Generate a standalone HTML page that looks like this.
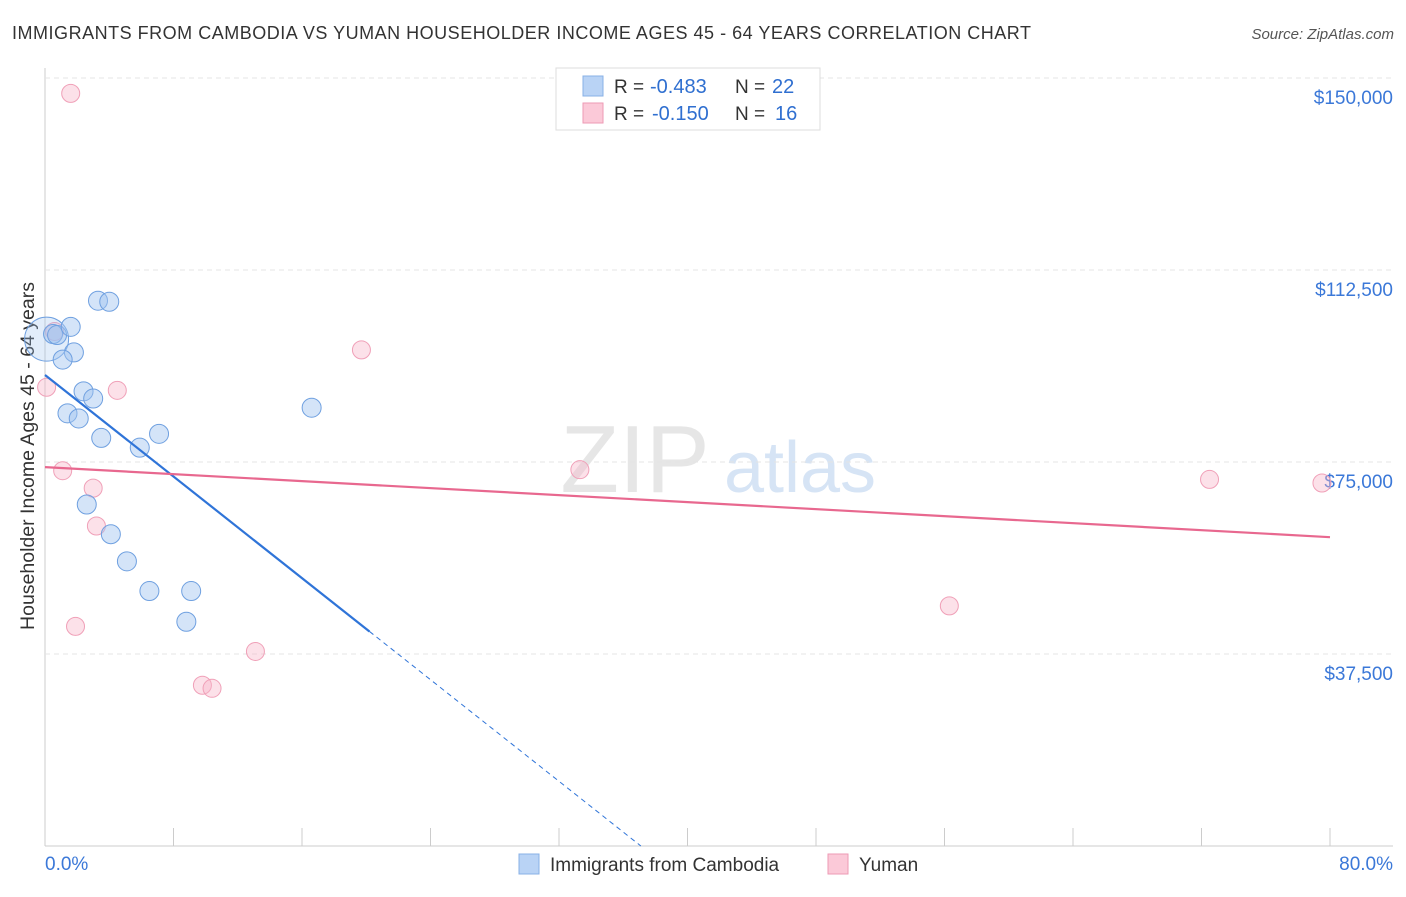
<!DOCTYPE html>
<html><head><meta charset="utf-8"><style>
body{margin:0;background:#fff;font-family:"Liberation Sans",sans-serif;}
svg text{font-family:"Liberation Sans",sans-serif;}
</style></head><body>
<svg id="c" width="1406" height="892" xmlns="http://www.w3.org/2000/svg">
<text x="12" y="39" font-size="18" fill="#333" textLength="1019">IMMIGRANTS FROM CAMBODIA VS YUMAN HOUSEHOLDER INCOME AGES 45 - 64 YEARS CORRELATION CHART</text>
<text x="1394" y="39" font-size="15" fill="#555" text-anchor="end" font-style="italic">Source: ZipAtlas.com</text>
<text x="635" y="492" font-size="96" fill="#e6e6e6" text-anchor="middle" font-family="Liberation Serif">ZIP</text>
<text x="800" y="492" font-size="72" fill="#d6e4f5" text-anchor="middle">atlas</text>
<text transform="translate(34,456) rotate(-90)" font-size="19.5" fill="#333" text-anchor="middle">Householder Income Ages 45 - 64 years</text>
<g id="grid"></g><g id="marks"></g>
<g>
<rect x="556" y="68" width="264" height="62" fill="#fff" stroke="#ddd"/>
<rect x="583" y="76" width="20" height="20" fill="#b9d3f5" stroke="#88b0e6"/>
<text x="614" y="93" font-size="19" fill="#333">R =</text>
<text x="650" y="93" font-size="20" fill="#2f6fd0">-0.483</text>
<text x="735" y="93" font-size="19" fill="#333">N =</text>
<text x="772" y="93" font-size="20" fill="#2f6fd0">22</text>
<rect x="583" y="103" width="20" height="20" fill="#fbc9d8" stroke="#ee9ab4"/>
<text x="614" y="120" font-size="19" fill="#333">R =</text>
<text x="652" y="120" font-size="20" fill="#2f6fd0">-0.150</text>
<text x="735" y="120" font-size="19" fill="#333">N =</text>
<text x="775" y="120" font-size="20" fill="#2f6fd0">16</text>
</g>
<g>
<rect x="519" y="854" width="20" height="20" fill="#b9d3f5" stroke="#88b0e6"/>
<text x="550" y="871" font-size="19" fill="#333">Immigrants from Cambodia</text>
<rect x="828" y="854" width="20" height="20" fill="#fbc9d8" stroke="#ee9ab4"/>
<text x="859" y="871" font-size="19" fill="#333">Yuman</text>
</g>
<text x="45" y="870" font-size="19" fill="#3b78d8">0.0%</text>
<text x="1393" y="870" font-size="19" fill="#3b78d8" text-anchor="end">80.0%</text>
</svg>
<script>
const yTicks=[37500,75000,112500,150000];
const yTickLabels=["$37,500","$75,000","$112,500","$150,000"];
const blueX=[0.1,0.5,0.75,1.6,3.3,4.0,1.8,1.1,2.4,3.0,1.4,2.1,3.5,7.1,5.9,16.6,2.6,4.1,5.1,6.5,9.1,8.8];
const blueY=[99000,100000,99800,101400,106500,106300,96400,95000,88800,87400,84500,83500,79700,80500,77800,85600,66700,60900,55600,49800,49800,43800];
const pinkX=[1.6,0.1,0.6,4.5,19.7,1.1,3.0,3.2,1.9,13.1,9.8,10.4,33.3,72.5,79.5,56.3];
const pinkY=[147000,89600,100500,89000,96900,73300,69900,62500,42900,38000,31400,30800,73500,71600,70900,46900];
const blueTrend=[92000,-2480];
const pinkTrend=[74000,-171];
const blueR=[22,9.5,9.5,9.5,9.5,9.5,9.5,9.5,9.5,9.5,9.5,9.5,9.5,9.5,9.5,9.5,9.5,9.5,9.5,9.5,9.5,9.5];

const NS="http://www.w3.org/2000/svg";
const X=v=>45+v/80*1285, Y=v=>846-v/37500*192;
const grid=document.getElementById('grid'), marks=document.getElementById('marks');
function mk(t,a,p){const e=document.createElementNS(NS,t);for(const k in a)e.setAttribute(k,a[k]);p.appendChild(e);return e;}
let ax=mk('line',{x1:45,y1:68,x2:45,y2:846,stroke:'#ccc'},grid);


let bx=mk('line',{x1:45,y1:846,x2:1393,y2:846,stroke:'#ccc'},grid);


for(let i=1;i<=10;i++){const x=45+i*1285/10;let t=mk('line',{x1:x,y1:828,x2:x,y2:846,stroke:'#ccc'},grid);

}
yTicks.forEach((v,i)=>{const y=Y(v);let g=mk('line',{x1:45,y1:y,x2:1393,y2:y,stroke:'#e4e4e4','stroke-dasharray':'5,4'},grid);


let t=mk('text',{x:1393,y:y+26,'font-size':19,fill:'#3b78d8','text-anchor':'end'},grid);t.textContent=yTickLabels[i];

});
pinkX.forEach((v,i)=>{let c=mk('circle',{cx:X(v),cy:Y(pinkY[i]),r:9,fill:'rgba(248,180,200,0.4)',stroke:'#f0a0b8'},marks);

});
blueX.forEach((v,i)=>{let c=mk('circle',{cx:X(v),cy:Y(blueY[i]),r:blueR[i],fill:i===0?'rgba(160,195,240,0.3)':'rgba(160,195,240,0.45)',stroke:'#6fa0e0'},marks);

});
const [ba,bb]=blueTrend;
let l1=mk('line',{x1:X(0),y1:Y(ba),x2:X(20.2),y2:Y(ba+bb*20.2),stroke:'#2f74d8','stroke-width':2.2},marks);


const xEnd=-ba/bb;
let l2=mk('line',{x1:X(20.2),y1:Y(ba+bb*20.2),x2:X(xEnd),y2:Y(0),stroke:'#2f74d8','stroke-width':1,'stroke-dasharray':'5,4'},marks);


const [pa,pb]=pinkTrend;
let l3=mk('line',{x1:X(0),y1:Y(pa),x2:X(80),y2:Y(pa+pb*80),stroke:'#e8688f','stroke-width':2.2},marks);


</script>
</body></html>
